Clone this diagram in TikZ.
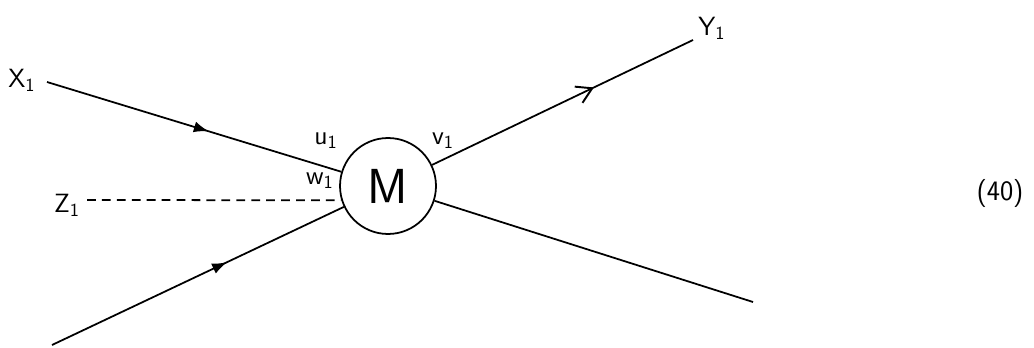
\documentclass[tikz,border=0pt]{standalone}
\usepackage{tikz}
\usetikzlibrary{positioning,arrows.meta,decorations.markings}

\begin{document}
\begin{tikzpicture}[x=0.02cm, y=-0.02cm, line width=1pt,
  every node/.style={font=\sffamily\fontsize{15}{15}\selectfont},
  meson/.style={draw, circle, minimum size=1.92cm, inner sep=0pt, font=\sffamily\fontsize{28}{28}\selectfont},
  wire/.style={draw},
  ghost/.style={draw, dash pattern=on 5pt off 3.5pt},
  midarr/.style={postaction={decorate}, decoration={markings,
    mark=at position #1 with {\arrow{Latex[length=3mm,width=2.2mm]}}}},
  openarr/.style={postaction={decorate}, decoration={markings,
    mark=at position #1 with {\arrow{Straight Barb[length=3mm,width=3.6mm,line width=1.1pt]}}}}]
\useasboundingbox (0,0) rectangle (1034,348);
\node[meson] (m) at (388,186) {M};
% free ends
\coordinate (xin) at (47,82);
\coordinate (zin) at (87,200);
\coordinate (lin) at (52,345);
\coordinate (yout) at (693,40);
\coordinate (rout) at (753,302);
\draw[wire, midarr=0.55] (xin) -- (m);
\draw[wire, midarr=0.6] (lin) -- (m);
\draw[wire, openarr=0.62] (m) -- (yout);
\draw[wire] (m) -- (rout);
\draw[ghost] (zin) -- (m.197);
% labels
\node (xl) at (22,80) {X\textsubscript{1}};
\node (zl) at (67,205) {Z\textsubscript{1}};
\node (yl) at (712,28) {Y\textsubscript{1}};
\node (ul) at (326,141) {u\textsubscript{1}};
\node (vl) at (443,141) {v\textsubscript{1}};
\node (wl) at (320,181) {w\textsubscript{1}};
\node (eq) at (1000,193) {\fontsize{16}{16}\selectfont(40)};
\end{tikzpicture}
\end{document}
